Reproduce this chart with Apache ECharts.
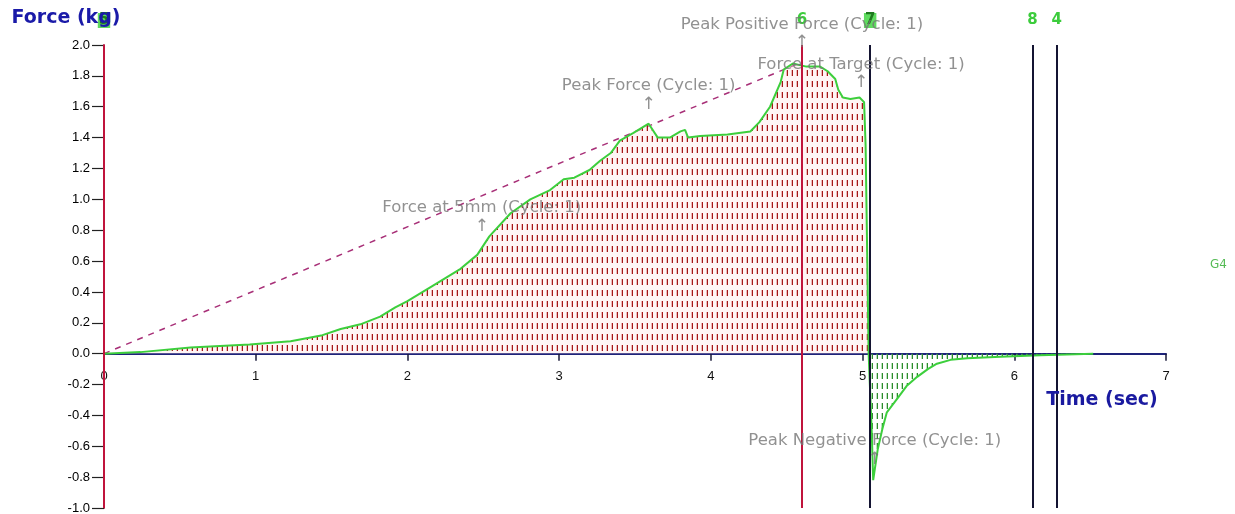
<!DOCTYPE html>
<html>
<head>
<meta charset="utf-8">
<script src="https://cdn.jsdelivr.net/npm/echarts@6/dist/echarts.min.js"></script>
<style>html,body{margin:0;padding:0;background:#fff}#c{width:1235px;height:514px}</style>
</head>
<body>
<div id="c"></div>
<script>
// ---- data ----
const timeRise  = [0, 0.24, 0.57, 0.96, 1.23, 1.44, 1.56, 1.69, 1.82, 1.92, 2.00, 2.15, 2.35, 2.46, 2.54, 2.68, 2.81, 2.94, 3.03, 3.10, 3.20, 3.27, 3.34, 3.40, 3.49, 3.59, 3.65, 3.73, 3.80, 3.83, 3.85, 3.93, 4.11, 4.26, 4.32, 4.39, 4.46, 4.48, 4.54, 4.63, 4.72, 4.77, 4.82, 4.84, 4.87, 4.92, 4.98, 5.01, 5.02, 5.04];
const forceRise = [0, 0.01, 0.04, 0.06, 0.08, 0.12, 0.16, 0.19, 0.24, 0.30, 0.34, 0.43, 0.55, 0.64, 0.76, 0.91, 1.00, 1.06, 1.13, 1.14, 1.19, 1.25, 1.30, 1.38, 1.43, 1.49, 1.40, 1.40, 1.44, 1.45, 1.40, 1.41, 1.42, 1.44, 1.50, 1.60, 1.76, 1.84, 1.88, 1.86, 1.86, 1.83, 1.78, 1.71, 1.66, 1.65, 1.66, 1.63, 1.35, 0.0];
const timeFall  = [5.04, 5.06, 5.07, 5.10, 5.13, 5.16, 5.23, 5.29, 5.36, 5.43, 5.49, 5.58, 5.69, 5.91, 6.17, 6.52];
const forceFall = [0.0, -0.50, -0.82, -0.62, -0.49, -0.38, -0.29, -0.21, -0.15, -0.10, -0.065, -0.04, -0.03, -0.02, -0.01, 0.0];

const refLineTime  = [0, 4.60];
const refLineForce = [0, 1.89];

const markerTimes  = [0, 4.60, 5.05, 6.12, 6.28];
const markerLabels = ['5', '6', '7', '8', '4'];

const annoTimes  = [4.60, 4.99, 3.59, 2.49, 5.08];
const annoForces = [1.89, 1.63, 1.49, 0.70, -0.81];
const annoTexts  = ['Peak Positive Force (Cycle: 1)', 'Force at Target (Cycle: 1)', 'Peak Force (Cycle: 1)', 'Force at 5mm (Cycle: 1)', 'Peak Negative Force (Cycle: 1)'];

const xRange = [0, 7, 1];
const yRange = [-1, 2, 0.2];

const yTitle = 'Force (kg)';
const xTitle = 'Time (sec)';
const sideTag = 'G4';

// ---- helpers ----
const zip = (a, b) => a.map((v, i) => [v, b[i]]);

function hatch(w, h, y0, len, main, side, bg) {
  const c = document.createElement('canvas');
  c.width = w; c.height = h;
  const g = c.getContext('2d');
  if (bg) { g.fillStyle = bg; g.fillRect(0, 0, w, h); }
  g.fillStyle = side; g.fillRect(1, y0, 1, len);
  g.fillStyle = main; g.fillRect(2, y0, 1, len);
  return c;
}
const redHatch = hatch(5, 11, 4, 6, '#a41818', 'rgba(220,120,120,0.5)', 'rgba(255,226,226,0.35)');
const greenHatch = hatch(5, 10, 3, 6, '#2e8b2e', 'rgba(120,200,120,0.5)', null);

const chart = echarts.init(document.getElementById('c'), null, {renderer: 'canvas'});

const W = 1235, H = 514;
const grid = {left: 104, right: 69, top: 45, bottom: 6};
const plotH = H - grid.top - grid.bottom;
// shift the x axis up from the grid bottom to the zero line
const zeroOffset = -plotH * (0 - yRange[0]) / (yRange[1] - yRange[0]);

const lineGreen = '#3ccf3c';
const markColor = (lab, i) => (i < 2 ? '#c0143c' : '#141432');
const highlighted = lab => lab === '5' || lab === '7';

const option = {
  animation: false,
  backgroundColor: '#ffffff',
  grid: Object.assign({containLabel: false, outerBoundsMode: 'none'}, grid),
  xAxis: {
    type: 'value', min: xRange[0], max: xRange[1], interval: xRange[2],
    position: 'bottom', offset: zeroOffset,
    axisLine: {show: true, onZero: false, lineStyle: {color: '#1e237a', width: 2}},
    axisTick: {show: true, length: 7, lineStyle: {color: '#1a1a3a', width: 1.5}},
    axisLabel: {show: true, margin: 16, color: '#111', fontSize: 13, fontFamily: '"Liberation Sans", Arial, sans-serif'},
    splitLine: {show: false}
  },
  yAxis: {
    type: 'value', min: yRange[0], max: yRange[1], interval: yRange[2],
    axisLine: {show: true, onZero: false, lineStyle: {color: '#b8204a', width: 2}},
    axisTick: {show: true, length: 12, lineStyle: {color: '#222', width: 1.2}},
    axisLabel: {
      margin: 14, color: '#000', fontSize: 13, fontFamily: '"Liberation Sans", Arial, sans-serif',
      formatter: v => (Math.abs(v) < 1e-6 ? 0 : v).toFixed(1)
    },
    splitLine: {show: false}
  },
  graphic: [
    {type: 'text', z: 100, style: {text: yTitle, x: 66, y: 18, align: 'center', verticalAlign: 'middle', fill: '#1a1aa8', font: 'bold 19px "DejaVu Sans", sans-serif'}},
    {type: 'text', z: 100, style: {text: xTitle, x: 1102, y: 400, align: 'center', verticalAlign: 'middle', fill: '#1a1aa0', font: 'bold 19px "DejaVu Sans", sans-serif'}},
    {type: 'text', z: 100, style: {text: sideTag, x: 1210, y: 265, align: 'left', verticalAlign: 'middle', fill: '#55bb55', font: '12px "DejaVu Sans", sans-serif'}}
  ],
  series: [
    {
      name: 'ref', type: 'line', data: zip(refLineTime, refLineForce), symbol: 'none', z: 1, silent: true,
      lineStyle: {color: '#a83078', width: 1.5, type: [6, 6]}
    },
    {
      name: 'rise', type: 'line', data: zip(timeRise, forceRise), symbol: 'none', z: 3, silent: true,
      lineStyle: {color: lineGreen, width: 2},
      areaStyle: {color: {image: redHatch, repeat: 'repeat'}, opacity: 1},
      markLine: {
        silent: true, symbol: ['none', 'none'], animation: false,
        data: markerTimes.map((t, i) => ({
          xAxis: t,
          lineStyle: {color: markColor(markerLabels[i], i), width: 2, type: 'solid'},
          label: {
            show: true, position: 'end', distance: 17, formatter: markerLabels[i],
            color: highlighted(markerLabels[i]) ? '#1e7a1e' : '#3ccc3c',
            backgroundColor: highlighted(markerLabels[i]) ? '#5fdc5f' : 'transparent',
            padding: [0, 1], fontSize: 15, fontWeight: 'bold', fontFamily: '"DejaVu Sans", sans-serif'
          }
        }))
      }
    },
    {
      name: 'fall', type: 'line', data: zip(timeFall, forceFall), symbol: 'none', z: 3, silent: true,
      lineStyle: {color: lineGreen, width: 2},
      areaStyle: {color: {image: greenHatch, repeat: 'repeat'}, opacity: 1}
    },
    {
      name: 'annotations', type: 'scatter', z: 5, silent: true,
      symbol: 'circle', symbolSize: 1, itemStyle: {color: 'rgba(0,0,0,0)'},
      data: zip(annoTimes, annoForces),
      label: {
        show: true, position: 'top', distance: 11, align: 'center',
        formatter: p => '{t|' + annoTexts[p.dataIndex] + '}\n{a|↑}',
        rich: {
          t: {fontSize: 16.5, fontFamily: '"DejaVu Sans", sans-serif', color: '#767676', lineHeight: 20, align: 'center'},
          a: {fontSize: 17, fontFamily: '"DejaVu Sans", sans-serif', color: '#767676', lineHeight: 16, align: 'center'}
        }
      }
    }
  ]
};
chart.setOption(option);
</script>
</body>
</html>
